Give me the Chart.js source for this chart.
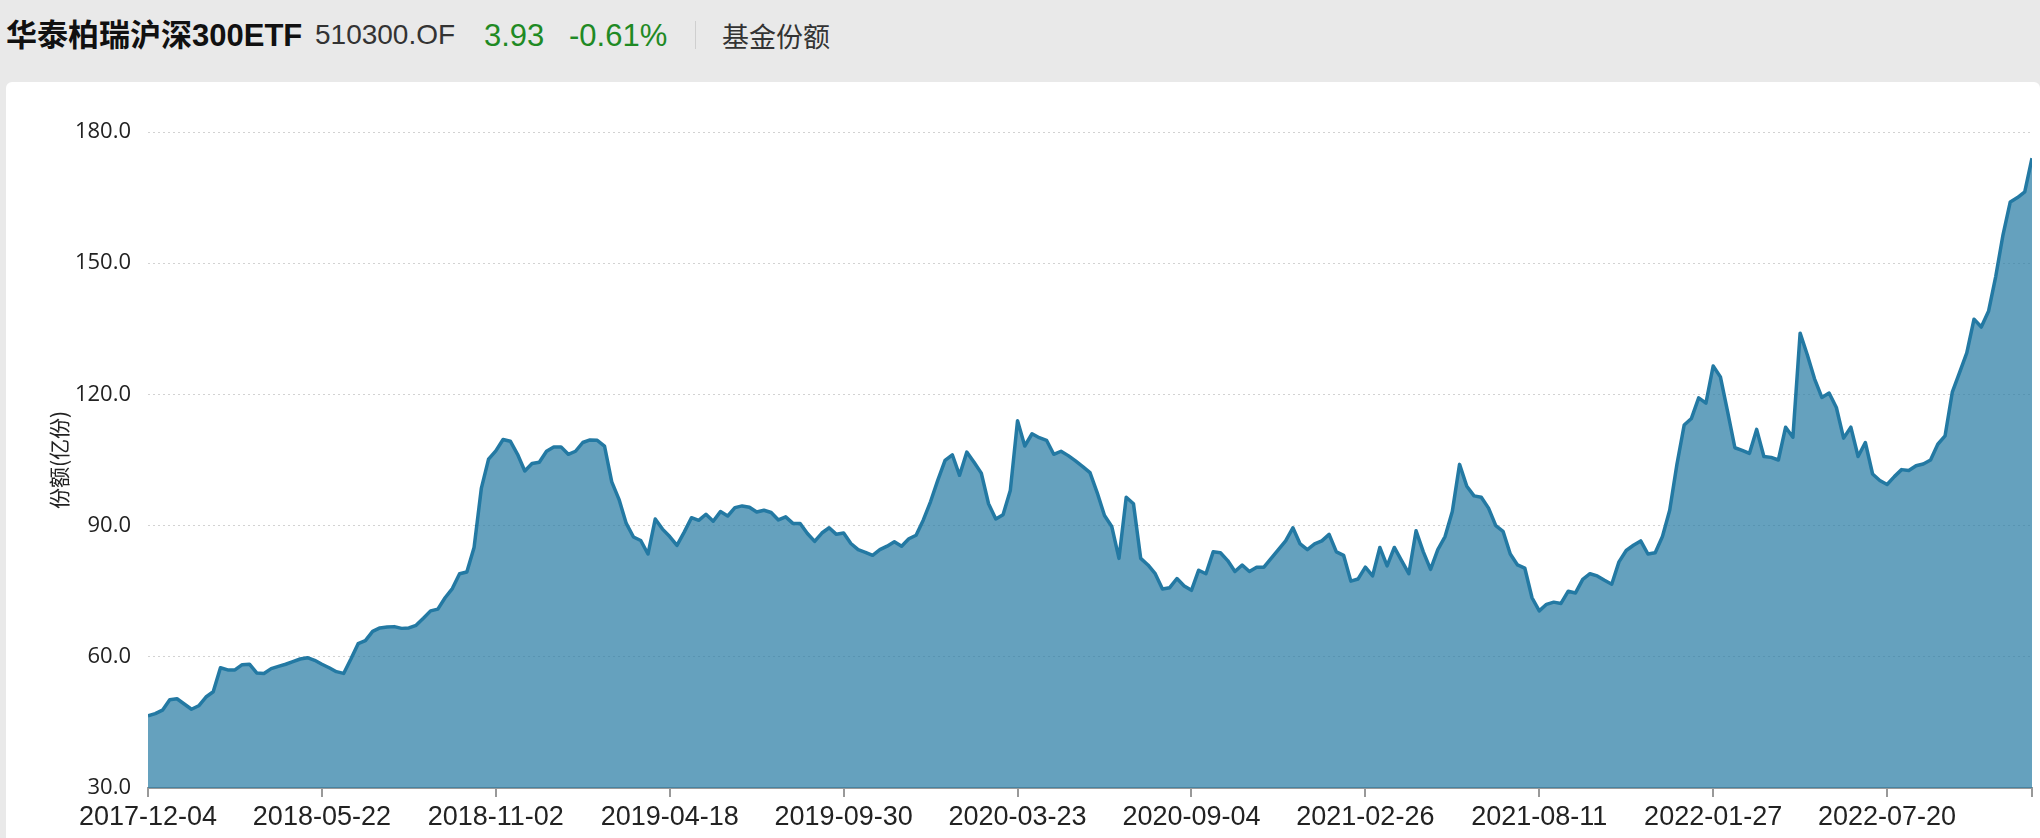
<!DOCTYPE html>
<html lang="zh-CN">
<head>
<meta charset="UTF-8">
<title>华泰柏瑞沪深300ETF 基金份额</title>
<script src="https://cdn.jsdelivr.net/npm/chart.js@4.4.1/dist/chart.umd.min.js"></script>
<style>
  html, body { margin: 0; padding: 0; }
  body {
    width: 2040px; height: 838px; position: relative; overflow: hidden;
    background: #e9e9e9;
    font-family: "Liberation Sans", "Noto Sans CJK SC", sans-serif;
  }
  .hd span { position: absolute; top: 35px; transform: translateY(-50%); line-height: 1; white-space: nowrap; }
  .hd .name { left: 6px; font-size: 31px; font-weight: bold; color: #111; }
  .hd .code { left: 315px; font-size: 28px; color: #333; }
  .hd .price { left: 484px; font-size: 31px; color: #1f8a24; }
  .hd .pct { left: 569px; font-size: 31px; color: #1f8a24; }
  .hd .sep { left: 695px; width: 1px; height: 28px; background: #cfcfcf; }
  .hd .kind { left: 722px; font-size: 27px; color: #333; font-family: "Noto Sans CJK SC", sans-serif; }
  .card { position: absolute; left: 6px; top: 82px; right: 0; bottom: -10px; background: #fff; border-radius: 6px; }
  #shares-chart { position: absolute; left: 0; top: 0; }
</style>
</head>
<body>
<div class="hd">
  <span class="name">华泰柏瑞沪深300ETF</span>
  <span class="code">510300.OF</span>
  <span class="price">3.93</span>
  <span class="pct">-0.61%</span>
  <span class="sep"></span>
  <span class="kind">基金份额</span>
</div>
<div class="card"></div>
<canvas id="shares-chart" width="2040" height="838"></canvas>

<script>
// 横轴刻度标签（每隔 24 个点一个）
const dateLabels = [
    '2017-12-04', '2018-05-22', '2018-11-02', '2019-04-18', '2019-09-30', '2020-03-23',
    '2020-09-04', '2021-02-26', '2021-08-11', '2022-01-27', '2022-07-20'
];
const pointsPerTick = 24;

// 基金份额（亿份）
const shares = [
    46.5, 47.0, 47.8, 50.2, 50.4, 49.2, 48.0, 48.8, 50.8, 52.0,
    57.5, 57.0, 57.0, 58.2, 58.3, 56.3, 56.2, 57.3, 57.8, 58.3,
    58.9, 59.5, 59.8, 59.2, 58.3, 57.5, 56.6, 56.2, 59.5, 63.0,
    63.7, 65.8, 66.6, 66.8, 66.9, 66.5, 66.6, 67.2, 68.8, 70.5,
    70.9, 73.5, 75.6, 79.0, 79.4, 85.0, 98.5, 105.2, 107.1, 109.7,
    109.3, 106.3, 102.5, 104.2, 104.5, 107.0, 108.0, 108.0, 106.3, 107.0,
    109.0, 109.6, 109.5, 108.2, 100.0, 96.0, 90.5, 87.4, 86.6, 83.5,
    91.5, 89.2, 87.5, 85.5, 88.5, 91.8, 91.2, 92.6, 91.0, 93.2,
    92.2, 94.1, 94.5, 94.2, 93.1, 93.5, 93.0, 91.3, 92.0, 90.5,
    90.5, 88.2, 86.4, 88.3, 89.5, 88.0, 88.3, 85.9, 84.5, 83.9,
    83.2, 84.5, 85.3, 86.3, 85.3, 87.0, 87.8, 91.3, 95.5, 100.4,
    104.9, 106.2, 101.5, 106.8, 104.5, 102.0, 95.0, 91.5, 92.5, 98.0,
    114.0, 108.2, 111.0, 110.1, 109.5, 106.3, 107.0, 106.0, 104.8, 103.5,
    102.1, 97.5, 92.3, 89.8, 82.5, 96.5, 95.0, 82.5, 81.0, 79.0,
    75.5, 75.8, 77.9, 76.2, 75.2, 79.8, 79.0, 84.0, 83.8, 82.0,
    79.5, 81.0, 79.5, 80.5, 80.5, 82.5, 84.5, 86.5, 89.5, 85.8,
    84.5, 85.8, 86.5, 88.0, 84.0, 83.2, 77.3, 77.8, 80.5, 78.5,
    85.0, 80.8, 85.0, 82.0, 79.0, 88.8, 84.0, 80.0, 84.5, 87.5,
    93.2, 104.0, 99.0, 96.8, 96.5, 94.0, 90.0, 88.7, 83.5, 81.0,
    80.3, 73.5, 70.5, 72.0, 72.5, 72.2, 75.0, 74.6, 77.7, 79.0,
    78.5, 77.5, 76.6, 81.7, 84.3, 85.5, 86.5, 83.5, 83.8, 87.5,
    93.5, 104.0, 113.0, 114.5, 119.2, 118.0, 126.5, 124.0, 116.0, 107.8,
    107.2, 106.5, 112.0, 105.8, 105.6, 105.0, 112.5, 110.2, 134.0, 129.0,
    123.5, 119.3, 120.3, 117.0, 110.0, 112.5, 105.8, 109.0, 101.8, 100.3,
    99.4, 101.2, 102.8, 102.6, 103.7, 104.1, 105.0, 108.6, 110.5, 120.5,
    125.0, 129.5, 137.2, 135.4, 139.0, 147.0, 156.5, 164.0, 165.0, 166.3,
    174.0
];

const yTicks = { min: 30, max: 180, step: 30 };

const lastIndex = shares.length - 1;
const tickValues = dateLabels.map((_, k) => k * pointsPerTick).concat(lastIndex);

const ctx = document.getElementById('shares-chart').getContext('2d');
new Chart(ctx, {
    type: 'line',
    data: {
        datasets: [{
            label: '份额',
            data: shares.map((v, i) => ({ x: i, y: v })),
            borderColor: 'rgb(35, 121, 163)',
            backgroundColor: 'rgba(35, 121, 163, 0.7)',
            borderWidth: 3.5,
            borderJoinStyle: 'round',
            pointRadius: 0,
            tension: 0,
            fill: 'start'
        }]
    },
    options: {
        responsive: false,
        animation: false,
        layout: { padding: { left: 46, right: 8, top: 132, bottom: 0 } },
        plugins: { legend: { display: false }, tooltip: { enabled: false } },
        scales: {
            x: {
                type: 'linear',
                min: 0,
                max: lastIndex,
                afterBuildTicks: axis => { axis.ticks = tickValues.map(value => ({ value })); },
                afterFit: scale => { scale.height = 50; },
                ticks: {
                    autoSkip: false,
                    maxRotation: 0,
                    padding: 4,
                    color: '#222',
                    font: { family: "'Liberation Sans', sans-serif", size: 27 },
                    callback: v => dateLabels[v / pointsPerTick] || ''
                },
                grid: { drawOnChartArea: false, drawTicks: true, tickLength: 9, color: '#999', lineWidth: 2 },
                border: { color: '#999', width: 2 }
            },
            y: {
                min: yTicks.min,
                max: yTicks.max,
                afterFit: scale => { scale.width = 102; },
                ticks: {
                    stepSize: yTicks.step,
                    padding: 17,
                    color: '#222',
                    font: { family: "'Open Sans', sans-serif", size: 22 },
                    callback: v => v.toFixed(1)
                },
                grid: { color: '#d2d2d2', drawTicks: false, lineWidth: 1 },
                border: { display: false, dash: [2, 3] },
                title: {
                    display: true,
                    text: '份额(亿份)',
                    color: '#222',
                    padding: 0,
                    font: { family: "'Noto Sans CJK SC', sans-serif", size: 21 }
                }
            }
        }
    }
});
</script>
</body>
</html>
